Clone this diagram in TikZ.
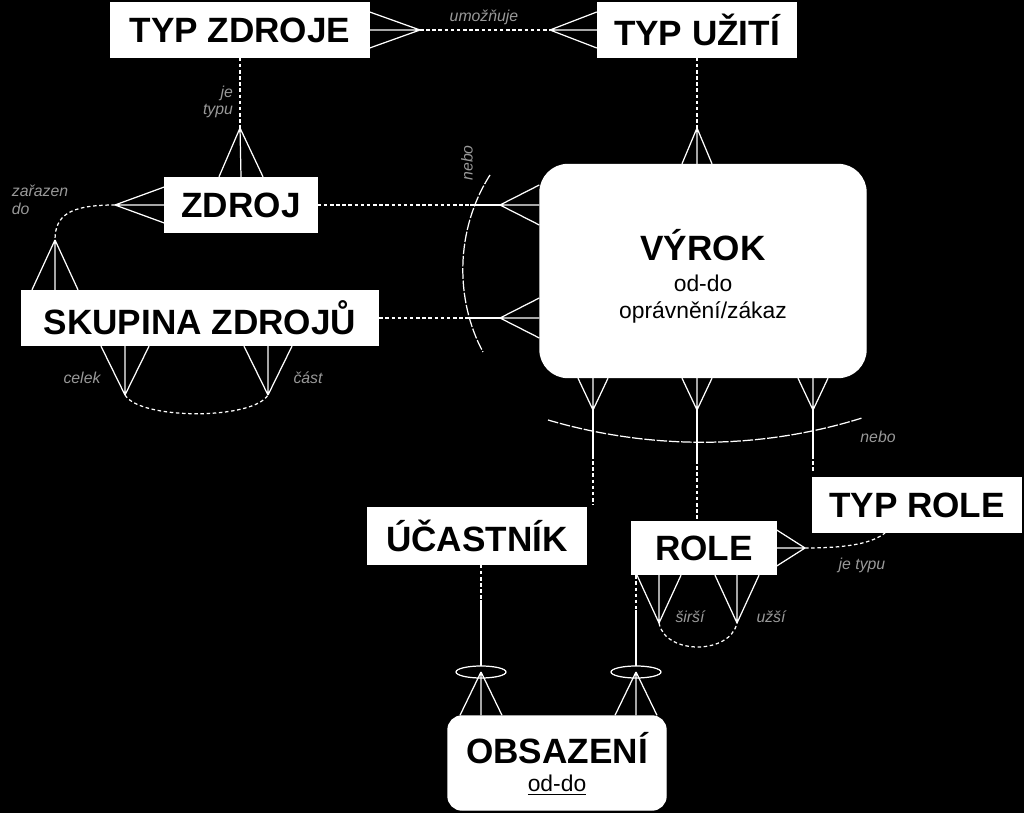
\documentclass[tikz,border=0pt]{standalone}
\usepackage{fontspec}
\setmainfont{Liberation Sans}
\usetikzlibrary{calc}

\tikzset{
  ent/.style={draw=white, fill=white, text=black, font=\bfseries\fontsize{20}{22}\selectfont, inner sep=0pt, line width=0.8pt},
  rel/.style={draw=white, line width=0.7pt},
  opt/.style={rel, dash pattern=on 2pt off 1.5pt},
  lbl/.style={text=gray!80, font=\itshape\fontsize{9}{10}\selectfont, align=right},
}
\newcommand\crowfoot[3]{\draw[rel] (#1) -- ($(#2)+(#3)$) (#1) -- (#2) (#1) -- ($(#2)-(#3)$);}

\begin{document}
\begin{tikzpicture}[x=0.02cm,y=-0.02cm]
\fill[black] (0,0) rectangle (1024,813);
\useasboundingbox (0,0) rectangle (1024,813);

% entities
\node[ent, minimum width=258*0.02cm, minimum height=54*0.02cm] (typzdroje) at (240,30) {TYP ZDROJE};
\node[ent, minimum width=199*0.02cm, minimum height=54*0.02cm] (typuziti) at (697,30) {TYP UŽITÍ};
\node[ent, minimum width=152*0.02cm, minimum height=55*0.02cm] (zdroj) at (241,205) {ZDROJ};
\node[ent, minimum width=357*0.02cm, minimum height=55*0.02cm] (skupina) at (200,318) {SKUPINA ZDROJŮ};
\node[ent, rounded corners=28*0.02cm, minimum width=326*0.02cm, minimum height=213*0.02cm] (vyrok) at (703,271) {};
\node[text=black, font=\bfseries\fontsize{20}{22}\selectfont] (vyrokt) at (703,245) {VÝROK};
\node[text=black, font=\fontsize{13}{15}\selectfont] (vyroka) at (703,283) {od-do};
\node[text=black, font=\fontsize{13}{15}\selectfont] (vyrokb) at (703,312) {oprávnění/zákaz};
\node[ent, minimum width=219*0.02cm, minimum height=56*0.02cm] (ucastnik) at (477,536) {ÚČASTNÍK};
\node[ent, minimum width=144*0.02cm, minimum height=53*0.02cm] (role) at (704,548) {ROLE};
\node[ent, minimum width=209*0.02cm, minimum height=55*0.02cm] (typrole) at (917,505) {TYP ROLE};
\node[ent, rounded corners=14*0.02cm, minimum width=218*0.02cm, minimum height=94*0.02cm] (obsazeni) at (557,763) {};
\node[text=black, font=\bfseries\fontsize{20}{22}\selectfont] (obst) at (557,748) {OBSAZENÍ};
\node[text=black, font=\fontsize{13}{15}\selectfont] (obsa) at (557,785) {\underline{od-do}};

% typ zdroje -- typ uziti
\coordinate (c1) at (420,30);
\coordinate (c2) at (550,30);
\crowfoot{c1}{typzdroje.east}{0,18}
\crowfoot{c2}{typuziti.west}{0,18}
\draw[opt] (c1) -- (c2);
\node[lbl] (l1) at (484,17) {umožňuje};

% typ zdroje -- zdroj
\coordinate (c3) at (240,128);
\draw[opt] (typzdroje.south) -- (c3);
\crowfoot{c3}{zdroj.north}{22,0}
\node[lbl] (l2) at (218,102) {je\\typu};

% typ uziti -- vyrok
\coordinate (c4) at (697,128);
\draw[opt] (typuziti.south) -- (c4);
\crowfoot{c4}{vyrok.north -| c4}{15,0}

% zdroj -- skupina
\coordinate (c5) at (115,205);
\coordinate (c6) at (55,240);
\crowfoot{c5}{zdroj.west}{0,18}
\crowfoot{c6}{skupina.north -| c6}{23,0}
\draw[opt] (c5) .. controls (70,205) and (55,215) .. (c6);
\node[lbl, align=left] (l3) at (40,200) {zařazen\\do};

% skupina -- skupina
\coordinate (c7) at (125,395);
\coordinate (c8) at (268,395);
\crowfoot{c7}{skupina.south -| c7}{24,0}
\crowfoot{c8}{skupina.south -| c8}{24,0}
\draw[opt] (c7) .. controls (140,420) and (253,420) .. (c8);
\node[lbl] (l4) at (82,378) {celek};
\node[lbl] (l5) at (308,378) {část};

% zdroj, skupina -- vyrok
\coordinate (c9) at (500,205);
\coordinate (c10) at (500,318);
\crowfoot{c9}{vyrok.west |- c9}{0,20}
\crowfoot{c10}{vyrok.west |- c10}{0,20}
\draw[opt] (zdroj.east) -- (470,205);
\draw[rel] (470,205) -- (c9);
\draw[opt] (skupina.east) -- (465,318);
\draw[rel] (465,318) -- (c10);
\draw[rel, dash pattern=on 6pt off 1pt] (490,175) .. controls (455,230) and (455,300) .. (483,352);
\node[lbl, rotate=90] (l6) at (467,163) {nebo};

% vyrok -- ucastnik, role, typ role
\coordinate (c11) at (593,410);
\coordinate (c12) at (697,410);
\coordinate (c13) at (813,410);
\crowfoot{c11}{vyrok.south -| c11}{15,0}
\crowfoot{c12}{vyrok.south -| c12}{15,0}
\crowfoot{c13}{vyrok.south -| c13}{15,0}
\draw[rel] (c11) -- (593,455);
\draw[opt] (593,455) -- (593,505);
\draw[rel] (c12) -- (697,460);
\draw[opt] (697,460) -- (role.north -| c12);
\draw[rel] (c13) -- (813,455);
\draw[opt] (813,455) -- (813,472);
\draw[rel, dash pattern=on 6pt off 1pt] (548,420) .. controls (650,450) and (760,450) .. (862,418);
\node[lbl] (l7) at (878,437) {nebo};

% role -- typ role
\coordinate (c14) at (805,548);
\crowfoot{c14}{role.east}{0,18}
\draw[opt] (c14) .. controls (840,548) and (870,545) .. (885,533);
\node[lbl] (l8) at (862,565) {je typu};

% role -- role
\coordinate (c15) at (659,623);
\coordinate (c16) at (737,623);
\crowfoot{c15}{role.south -| c15}{22,0}
\crowfoot{c16}{role.south -| c16}{22,0}
\draw[opt] (c15) .. controls (665,655) and (730,655) .. (c16);
\node[lbl] (l9) at (690,617) {širší};
\node[lbl] (l10) at (771,617) {užší};

% ucastnik, role -- obsazeni
\coordinate (e1) at (481,672);
\coordinate (e2) at (636,672);
\draw[opt] (ucastnik.south -| e1) -- (481,600);
\draw[rel] (481,600) -- (e1);
\draw[opt] (role.south west -| e2) -- (636,610);
\draw[rel] (636,610) -- (e2);
\draw[white, fill=black, line width=0.7pt] (e1) ellipse [x radius=25, y radius=6];
\draw[white, fill=black, line width=0.7pt] (e2) ellipse [x radius=25, y radius=6];
\crowfoot{e1}{obsazeni.north -| e1}{21,0}
\crowfoot{e2}{obsazeni.north -| e2}{21,0}

\end{tikzpicture}
\end{document}
